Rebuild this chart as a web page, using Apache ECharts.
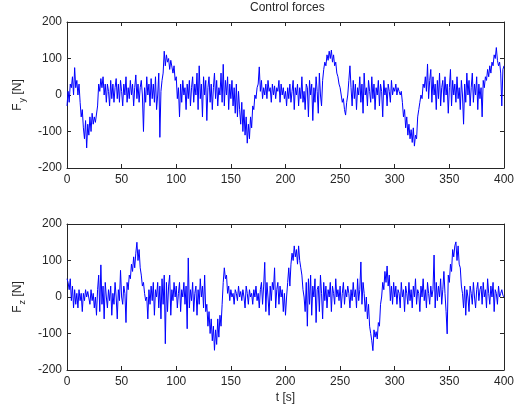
<!DOCTYPE html>
<html>
<head>
<meta charset="utf-8">
<script src="https://cdn.jsdelivr.net/npm/echarts@6/dist/echarts.min.js"></script>
<style>
html,body{margin:0;padding:0;background:#fff;}
#c{width:517px;height:412px;}
</style>
</head>
<body>
<div id="c"></div>
<script>
var fy = [
-30, 10, -20, 30, 20, 50, 0, 75, 20, 40,
0, 30, -20, -60, -40, -90, -120, -70, -145, -80,
-110, -60, -100, -50, -80, -60, -75, -70, -30, 30,
10, 45, 20, 50, 0, 30, -20, 30, 10, -30,
40, -10, 30, -20, 20, 45, -10, 30, -20, 40,
10, -30, 30, 0, 50, -20, 20, -10, 40, 0,
30, -30, 20, 55, -10, 30, -20, 20, 40, 0,
-100, 20, -20, 50, 0, 30, -30, 45, -10, 30,
-20, 50, -40, 0, 60, -116, 10, 40, 60, 120,
80, 110, 90, 100, 70, 95, 100, 60, 80, 40,
50, -10, 20, -60, 30, -20, 40, 0, 20, -40,
30, -10, 40, -30, 20, 50, -20, 30, 0, 60,
-40, 80, -10, 30, -60, 50, 0, 40, -70, 20,
50, -20, 30, -40, 20, 60, -10, 40, -30, 20,
0, 60, -20, 84, -30, 40, 0, 50, -40, 30,
-10, 40, -30, 20, -50, 30, -60, 10, -40, -80,
-20, -100, -40, -110, -60, -132, -80, -120, -60, -90,
-30, -40, 0, -10, 20, 30, 77, 10, 40, -10,
20, 0, 30, -10, 40, 10, 20, -20, 30, 0,
25, -10, 20, 10, 40, -20, 30, 0, 20, -10,
10, -30, 20, -10, 30, -20, 10, 40, -40, 20,
0, 30, -30, 20, -10, 50, -20, 10, -40, 30,
20, -60, 40, 0, 30, -70, 20, -20, 50, 10,
-50, 60, 0, -30, 40, 70, 90, 80, 110, 95,
120, 100, 123, 90, 110, 80, 90, 60, 50, 30,
20, 0, -20, -10, -40, -55, -20, 0, 40, 80,
20, -30, 40, -10, 30, -40, 20, 0, 50, -20,
30, -50, 60, 0, 20, -30, 40, 10, -20, 50,
-10, 30, -40, 20, 0, 40, -30, 30, 10, -60,
40, 0, 20, -30, 30, 10, -20, 40, 0, 20,
10, 30, 0, 20, 10, 0, 10, -20, -60, -40,
-90, -60, -110, -80, -120, -95, -130, -90, -140, -110,
-120, -60, -40, -20, 0, -10, 30, 20, 50, 10,
85, -10, 40, 70, -20, 50, 0, 30, -40, 40,
-10, 60, -30, 20, 40, -20, 50, 0, 30, -50,
20, 70, -30, 40, 0, 30, -20, 50, -10, 20,
-40, 40, 0, -80, 30, -20, 60, 0, 40, -30,
20, 60, -20, 30, 0, 50, -40, 30, -10, 20,
-60, 40, 20, 50, 40, 70, 50, 80, 60, 90,
80, 110, 100, 130, 95, 80, 90, 60, -30, 70,
80
];
var fz = [
50, 40, 20, 50, -10, 30, -30, 20, -20, 10,
-30, 20, -10, 10, -40, 10, -10, 20, 0, 15,
10, -20, 20, -10, 10, -30, 0, -50, 20, 60,
-40, 88, -20, 30, -60, 40, 0, -30, 20, -10,
30, -50, 10, -20, 40, 0, -60, 20, -10, 73,
0, -20, 30, 10, -70, 40, 20, 60, 50, 90,
70, 110, 80, 120, 150, 100, 130, 80, 60, 30,
40, 10, -10, 0, -60, 20, -20, 30, -10, 40,
-50, 20, 0, 40, -30, 30, -60, 50, -20, 60,
-128, 40, -40, 30, 60, -50, 20, -10, 40, 0,
30, -30, 10, 40, -40, 20, 0, 40, -20, 30,
-87, 107, -30, 20, -10, 40, -40, 10, 30, -50,
20, -20, 50, 0, 30, -30, 60, -40, -20, -80,
-40, -100, -60, -120, -80, -146, -90, -130, -60, -110,
-50, -80, -20, 40, 80, 50, 60, 10, 30, -10,
20, 0, 10, -20, 20, 10, -10, 30, 0, 15,
-10, 20, 0, -30, 30, 10, -20, 20, 0, 10,
-20, 20, 0, 30, -10, 10, -30, 20, 40, -20,
30, 95, -40, 40, 0, -50, 30, -10, 40, 20,
80, -30, 20, 40, -20, 30, 0, 20, -40, 10,
-50, 0, 40, 80, 30, 90, 120, 100, 140, 110,
130, 90, 140, 100, 80, 60, 20, 0, -40, 40,
-80, 50, -20, 60, -50, 30, 0, 50, -70, 20,
30, -40, 60, 10, -60, 40, -10, 30, -30, 20,
0, 40, -40, 30, 10, -20, 50, 0, 20, -10,
30, -30, 10, 40, -20, 20, 0, 30, 10, -30,
20, -10, 40, 0, 20, -30, 50, -10, 20, 96,
-20, 40, 10, -40, 0, -60, -20, -80, -100, -120,
-147, -90, -110, -95, -115, -70, -80, -20, 0, 40,
20, 70, 40, 85, 30, 60, -10, 30, -20, 40,
0, 30, -20, 20, 10, -30, 40, 0, 20, -40,
30, 10, -20, 40, -10, 20, -30, 30, 0, 50,
-20, 20, 10, -40, 30, 0, 50, -10, 20, -30,
40, 10, -20, 30, 0, 20, 115, -30, 40, -10,
30, 0, 50, -20, 20, 70, 10, -40, -101, 60,
40, 90, 70, 130, 110, 140, 151, 100, 140, 90,
80, 30, 10, -30, 30, -50, 20, 0, -40, 30,
10, -20, 40, 0, -30, 20, 40, -10, 20, 30,
-20, 40, 0, 20, -30, 50, 10, -20, 30, 0,
40, -40, 20, 10, -20, 30, 0, 10, 20, 5,
0
];
var timeStepSeconds = 1;
var xTicks = [0, 50, 100, 150, 200, 250, 300, 350, 400];
var yTicks = [-200, -100, 0, 100, 200];
var titleText = 'Control forces';
var xName = 't [s]';

function pairs(arr) {
  return arr.map(function (v, i) { return [i * timeStepSeconds, v]; });
}

var FONT = '"Liberation Sans", Arial, sans-serif';
var TXT = '#262626';
var AX = '#262626';

function xAx(gridIndex, pos, showLabel, name) {
  return {
    type: 'value', gridIndex: gridIndex, position: pos,
    min: xTicks[0], max: xTicks[xTicks.length - 1], interval: xTicks[1] - xTicks[0],
    axisLine: { show: true, onZero: false, lineStyle: { color: AX, width: 1 } },
    axisTick: { show: true, inside: true, length: 4, lineStyle: { color: AX } },
    axisLabel: { show: showLabel, color: TXT, fontSize: 12, fontFamily: FONT, margin: 6 },
    splitLine: { show: false },
    name: name || '', nameLocation: 'middle', nameGap: 22,
    nameTextStyle: { color: TXT, fontSize: 12, fontFamily: FONT }
  };
}
function yAx(gridIndex, pos, showLabel, sub) {
  return {
    type: 'value', gridIndex: gridIndex, position: pos,
    min: yTicks[0], max: yTicks[yTicks.length - 1], interval: yTicks[1] - yTicks[0],
    axisLine: { show: true, onZero: false, lineStyle: { color: AX, width: 1 } },
    axisTick: { show: true, inside: true, length: 4, lineStyle: { color: AX } },
    axisLabel: { show: showLabel, color: TXT, fontSize: 12, fontFamily: FONT, margin: 5 },
    splitLine: { show: false },
    name: sub ? '{m|F}{s|' + sub + '}{m| [N]}' : '',
    nameLocation: 'middle', nameGap: 40,
    nameTextStyle: {
      color: TXT, fontFamily: FONT,
      rich: {
        m: { fontSize: 12, color: TXT, fontFamily: FONT, lineHeight: 14 },
        s: { fontSize: 9, color: TXT, fontFamily: FONT, padding: [9, 0, 0, 1], lineHeight: 14 }
      }
    }
  };
}

var chart = echarts.init(document.getElementById('c'), null, { renderer: 'canvas' });
chart.setOption({
  animation: false,
  backgroundColor: '#ffffff',
  grid: [
    { left: 67, top: 22, width: 439, height: 146 },
    { left: 67, top: 224, width: 439, height: 146 }
  ],
  xAxis: [
    xAx(0, 'bottom', true),
    xAx(0, 'top', false),
    xAx(1, 'bottom', true, xName),
    xAx(1, 'top', false)
  ],
  yAxis: [
    yAx(0, 'left', true, 'y'),
    yAx(0, 'right', false),
    yAx(1, 'left', true, 'z'),
    yAx(1, 'right', false)
  ],
  graphic: [{
    type: 'text', left: 287 - 37, top: 2,
    style: { text: titleText, fill: TXT, font: '12px ' + FONT }
  }],
  series: [
    {
      type: 'line', xAxisIndex: 0, yAxisIndex: 0, data: pairs(fy),
      showSymbol: false, symbol: 'none', lineStyle: { color: '#0000ff', width: 1 },
      itemStyle: { color: '#0000ff' }
    },
    {
      type: 'line', xAxisIndex: 2, yAxisIndex: 2, data: pairs(fz),
      showSymbol: false, symbol: 'none', lineStyle: { color: '#0000ff', width: 1 },
      itemStyle: { color: '#0000ff' }
    }
  ]
});
</script>
</body>
</html>
